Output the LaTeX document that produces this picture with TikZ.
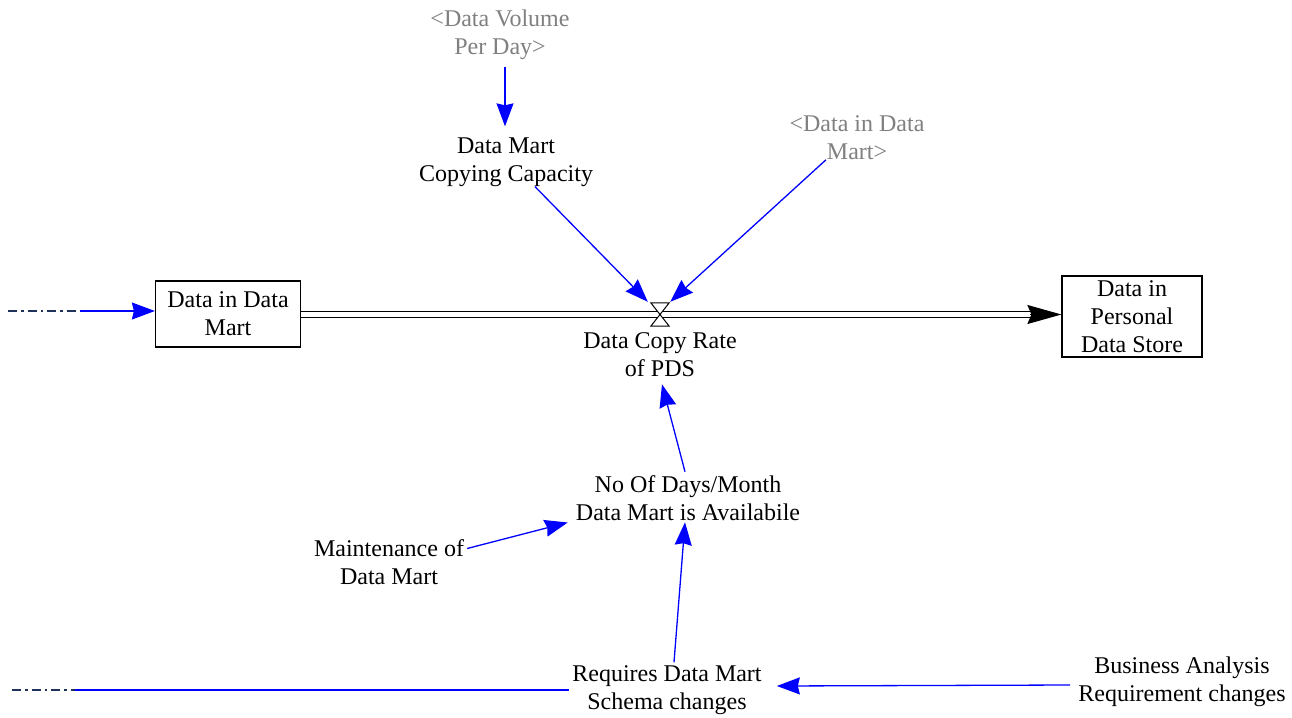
\documentclass[tikz,border=0pt]{standalone}
\usepackage{fontspec}
\setmainfont{Liberation Serif}
\usetikzlibrary{arrows.meta}
\definecolor{linkblue}{RGB}{0,0,255}
\definecolor{shadowgrey}{RGB}{128,128,128}
\definecolor{cloudnavy}{RGB}{31,50,90}
\tikzset{
  txt/.style={align=center,inner sep=3pt,font=\fontsize{24}{28}\selectfont},
  shadow/.style={txt,text=shadowgrey},
  stock/.style={draw,line width=1.2pt,align=center,inner sep=0pt,font=\fontsize{24}{28}\selectfont},
  link/.style={draw=linkblue,line width=1.3pt,-{Stealth[length=23pt,width=17pt,inset=2pt,fill=linkblue]}},
  plainlink/.style={draw=linkblue,line width=1.3pt},
  cloudline/.style={draw=cloudnavy,line width=1.5pt,dash pattern=on 9pt off 4pt on 2.5pt off 4pt},
  pipe/.style={double,double distance=5.5pt,line width=1.2pt},
  pipehead/.style={line width=1pt,-{Stealth[length=34pt,width=19pt,inset=4pt]}},
  valveshape/.style={inner sep=0pt,minimum width=18pt,minimum height=23pt}
}
\begin{document}
\begin{tikzpicture}[x=1pt,y=-1pt]
  \useasboundingbox[fill=white] (0,0) rectangle (1292,717);

  % stocks
  \node[stock,minimum width=145pt,minimum height=66pt] (dm) at (228,314) {Data in Data\\Mart};
  \node[stock,minimum width=140pt,minimum height=81pt] (pds) at (1132,316.5) {Data in\\Personal\\Data Store};

  % flow valve
  \node[valveshape] (valve) at (660,314.5) {};
  \coordinate (pipeend) at (1030,314.5);

  % variables
  \node[shadow] (vol) at (500,35) {<Data Volume\\Per Day>};
  \node[txt] (cap) at (506,162) {Data Mart\\Copying Capacity};
  \node[shadow] (dim) at (857,137.5) {<Data in Data\\Mart>};
  \node[txt] (rate) at (660,355) {Data Copy Rate\\of PDS};
  \node[txt] (days) at (688,498.5) {No Of Days/Month\\Data Mart is Availabile};
  \node[txt] (maint) at (389,562.5) {Maintenance of\\Data Mart};
  \node[txt] (req) at (667,690) {Requires Data Mart\\Schema changes};
  \node[txt] (bus) at (1182,682) {Business Analysis\\Requirement changes};

  % sources at the left edge
  \coordinate (cloudA0) at (8,311);
  \coordinate (cloudA) at (80,311);
  \coordinate (cloudB0) at (12,690);
  \coordinate (cloudB) at (75,690);

  % main flow pipe
  \draw[pipe] (dm.east |- valve) -- (pipeend);
  \draw[pipehead] (pipeend) -- (pds.west |- valve);
  \draw[line width=1pt,fill=white]
    (valve.north west) -- (valve.north east) -- (valve.south west) -- (valve.south east) -- cycle;

  % inflow into the first stock
  \draw[cloudline] (cloudA0) -- (cloudA);
  \draw[link] (cloudA) -- (dm.west |- cloudA);

  % information links
  \draw[link] ([xshift=5pt,yshift=-4pt]vol.south) -- ([xshift=-1pt,yshift=8pt]cap.north);
  \draw[link] ([xshift=29pt,yshift=3pt]cap.south) -- ([xshift=-3pt,yshift=1pt]valve.north west);
  \draw[link] ([xshift=-31pt,yshift=3pt]dim.south) -- ([xshift=1pt,yshift=1pt]valve.north east);
  \draw[link] ([xshift=-3pt,yshift=1pt]days.north) -- ([xshift=2pt,yshift=-4pt]rate.south);
  \draw[link] ([yshift=14pt]maint.east) -- ([xshift=-5pt,yshift=-24pt]days.west);
  \draw[link] ([xshift=7pt]req.north) -- ([xshift=-3pt,yshift=2pt]days.south);
  \draw[link] ([xshift=-5pt,yshift=-3pt]bus.west) -- ([xshift=12pt,yshift=4pt]req.east);

  % outgoing link at the bottom
  \draw[cloudline] (cloudB0) -- (cloudB);
  \draw[plainlink] (cloudB) -- (req.west |- cloudB);
\end{tikzpicture}
\end{document}
